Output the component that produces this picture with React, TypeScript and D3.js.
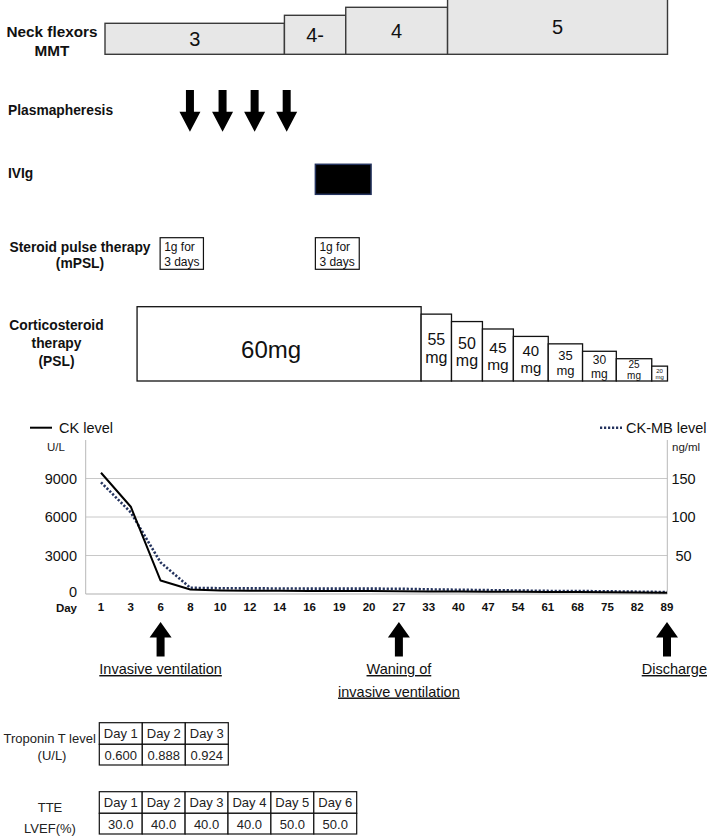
import React from 'react';
import * as d3 from 'd3';

// ---------- Data ----------
// Upper timeline (schematic units 0..100)
const mmtLabels = ['3', '4-', '4', '5'];
const mmtLevels = [1, 2, 3, 4];
const mmtStart = [0, 31.9, 42.8, 60.9];
const mmtEnd = [31.9, 42.8, 60.9, 100];

const plasmaTimes = [15.1, 20.9, 26.6, 32.3];
const ivigSpan = [37.4, 47.3];
const pulseStart = [9.8, 37.4];
const pulseEnd = [17.5, 45.2];

const pslDose = [60, 55, 50, 45, 40, 35, 30, 25, 20];
const pslStart = [5.7, 56.2, 61.6, 67.1, 72.6, 78.8, 84.9, 90.9, 97.2];
const pslEnd = [56.2, 61.6, 67.1, 72.6, 78.8, 84.9, 90.9, 97.2, 100];

// Chart
const days = ['1', '3', '6', '8', '10', '12', '14', '16', '19', '20', '27', '33', '40', '47', '54', '61', '68', '75', '82', '89'];
const ckLevel = [9450, 6800, 1050, 350, 280, 260, 250, 240, 230, 230, 220, 200, 190, 180, 170, 160, 150, 130, 110, 90];
const ckmbLevel = [145, 106, 41, 8, 7.5, 7.3, 7.2, 7, 7, 7, 6.8, 6, 5.5, 5, 4.5, 4, 3.8, 3.5, 3, 2.5];
const leftTicks = [0, 3000, 6000, 9000];
const rightTicks = [50, 100, 150];

const eventDays = ['6', '27', '89'];
const eventLabels = [['Invasive ventilation'], ['Waning of', 'invasive ventilation'], ['Discharge']];

// Tables
const tropDays = ['Day 1', 'Day 2', 'Day 3'];
const tropValues = ['0.600', '0.888', '0.924'];
const tteDays = ['Day 1', 'Day 2', 'Day 3', 'Day 4', 'Day 5', 'Day 6'];
const tteValues = ['30.0', '40.0', '40.0', '40.0', '50.0', '50.0'];

const FONT = "'Liberation Sans', Arial, Helvetica, sans-serif";

function arrowPath(cx: number, tailY: number, headBaseY: number, tipY: number, shaftW: number, headW: number) {
  return `M${cx - shaftW / 2},${tailY} L${cx + shaftW / 2},${tailY} L${cx + shaftW / 2},${headBaseY} L${cx + headW / 2},${headBaseY} L${cx},${tipY} L${cx - headW / 2},${headBaseY} L${cx - shaftW / 2},${headBaseY} Z`;
}

export default function App() {
  const W = 708, H = 839;
  const tx = d3.scaleLinear().domain([0, 100]).range([105, 667.5]);

  // MMT
  const mmtBottom = 54.3;
  const mmtH = d3.scaleLinear().domain([0, 4]).range([23, 55]);

  // PSL
  const pslBottom = 381;
  const pslH = d3.scaleLinear().domain([10, 60]).range([0, 74.3]);
  const pslFont = d3.scaleLinear().domain([20, 25, 30, 35, 40, 50, 55]).range([6, 10, 12, 13, 15, 16, 16]).clamp(true);

  // Chart
  const plotL = 85.7, plotR = 667.3, plotT = 440, plotB = 594;
  const x = d3.scalePoint<string>().domain(days).range([101, 667]);
  const yL = d3.scaleLinear().domain([0, 12000]).range([plotB, plotT]);
  const yR = d3.scaleLinear().domain([0, 200]).range([plotB, plotT]);
  const ckLine = d3.line<number>().x((_, i) => x(days[i])!).y(d => yL(d));
  const ckmbLine = d3.line<number>().x((_, i) => x(days[i])!).y(d => yR(d));

  const tropX = d3.scaleBand<string>().domain(tropDays).range([99.3, 228.3]);
  const tteX = d3.scaleBand<string>().domain(tteDays).range([99.3, 356.7]);

  const boldLabel = { fontFamily: FONT, fontWeight: 700, fontSize: 13.8, fill: '#111' } as const;

  return (
    <svg width={W} height={H} style={{ position: 'absolute', left: 0, top: 0, background: '#fff' }} fontFamily={FONT}>
      <rect x={0} y={0} width={W} height={H} fill="#fff" />

      {/* Neck flexors MMT */}
      <text x={52} y={37} textAnchor="middle" {...boldLabel} fontSize={15.3}>Neck flexors</text>
      <text x={52} y={56} textAnchor="middle" {...boldLabel} fontSize={15.3}>MMT</text>
      {mmtLabels.map((lab, i) => {
        const h = mmtH(mmtLevels[i]);
        const x0 = tx(mmtStart[i]), x1 = tx(mmtEnd[i]);
        return (
          <g key={'mmt' + i}>
            <rect x={x0} y={mmtBottom - h} width={x1 - x0} height={h} fill="#e7e7e7" stroke="#3a3a3a" strokeWidth={1.4} />
            <text x={(x0 + x1) / 2} y={mmtBottom - h / 2 + 7} textAnchor="middle" fontSize={20} fill="#111">{lab}</text>
          </g>
        );
      })}

      {/* Plasmapheresis */}
      <text x={8} y={115} {...boldLabel}>Plasmapheresis</text>
      {plasmaTimes.map((t, i) => (
        <path key={'pl' + i} d={arrowPath(tx(t), 90, 111.7, 131.7, 8, 21)} fill="#000" />
      ))}

      {/* IVIg */}
      <text x={8} y={178} {...boldLabel}>IVIg</text>
      <rect x={tx(ivigSpan[0])} y={164.3} width={tx(ivigSpan[1]) - tx(ivigSpan[0])} height={30} fill="#000" stroke="#24335e" strokeWidth={1.5} />

      {/* Steroid pulse */}
      <text x={80} y={251.5} textAnchor="middle" {...boldLabel}>Steroid pulse therapy</text>
      <text x={80} y={268} textAnchor="middle" {...boldLabel}>(mPSL)</text>
      {pulseStart.map((s, i) => {
        const x0 = tx(s), x1 = tx(pulseEnd[i]);
        return (
          <g key={'pu' + i}>
            <rect x={x0} y={237.7} width={x1 - x0} height={31.6} fill="#fff" stroke="#111" strokeWidth={1.2} />
            <text x={x0 + 4} y={251} fontSize={12} fill="#111">1g for</text>
            <text x={x0 + 4} y={266} fontSize={12} fill="#111">3 days</text>
          </g>
        );
      })}

      {/* Corticosteroid therapy */}
      <text x={56.5} y={330} textAnchor="middle" {...boldLabel}>Corticosteroid</text>
      <text x={56.5} y={348} textAnchor="middle" {...boldLabel}>therapy</text>
      <text x={56.5} y={366} textAnchor="middle" {...boldLabel}>(PSL)</text>
      {pslDose.map((d, i) => {
        const x0 = tx(pslStart[i]), x1 = tx(pslEnd[i]);
        const h = pslH(d);
        const cx = (x0 + x1) / 2;
        const cy = pslBottom - h / 2;
        if (i === 0) {
          return (
            <g key={'psl' + i}>
              <rect x={x0} y={pslBottom - h} width={x1 - x0} height={h} fill="#fff" stroke="#111" strokeWidth={1.3} />
              <text x={cx - 8} y={cy + 14} textAnchor="middle" fontSize={24} fill="#111">{d}mg</text>
            </g>
          );
        }
        const fs = pslFont(d);
        return (
          <g key={'psl' + i}>
            <rect x={x0} y={pslBottom - h} width={x1 - x0} height={h} fill="#fff" stroke="#111" strokeWidth={1.3} />
            <text x={cx} y={cy - fs * 0.15} textAnchor="middle" fontSize={fs} fill="#111">{d}</text>
            <text x={cx} y={cy + fs * 0.95} textAnchor="middle" fontSize={fs} fill="#111">mg</text>
          </g>
        );
      })}

      {/* Chart legend */}
      <line x1={30} x2={52} y1={427.7} y2={427.7} stroke="#000" strokeWidth={2} />
      <text x={59} y={433} fontSize={14.5} fill="#111">CK level</text>
      <line x1={600} x2={622} y1={427.7} y2={427.7} stroke="#24335e" strokeWidth={2.5} strokeDasharray="2.2 1.8" />
      <text x={626} y={433} fontSize={14.5} fill="#111">CK-MB level</text>

      {/* Units */}
      <text x={47} y={451} fontSize={11.5} fill="#222">U/L</text>
      <text x={672} y={451} fontSize={11.5} fill="#222">ng/ml</text>

      {/* gridlines */}
      {leftTicks.filter(t => t > 0).map(t => (
        <line key={'g' + t} x1={plotL} x2={plotR} y1={yL(t)} y2={yL(t)} stroke="#c8c8c8" strokeWidth={1} />
      ))}
      <line x1={plotL} x2={plotR} y1={plotB} y2={plotB} stroke="#b0b0b0" strokeWidth={1.2} />
      <line x1={plotL} x2={plotL} y1={plotT} y2={plotB} stroke="#b8b8b8" strokeWidth={1} />
      <line x1={plotR} x2={plotR} y1={plotT} y2={plotB} stroke="#b8b8b8" strokeWidth={1} />

      {/* left tick labels */}
      {leftTicks.map(t => (
        <text key={'lt' + t} x={77} y={yL(t) + (t === 0 ? 3 : 5)} textAnchor="end" fontSize={14.5} fill="#111">{t}</text>
      ))}
      {rightTicks.map(t => (
        <text key={'rt' + t} x={683.5} y={yR(t) + 5} textAnchor="middle" fontSize={14.5} fill="#111">{t}</text>
      ))}

      {/* lines */}
      <path d={ckmbLine(ckmbLevel)!} fill="none" stroke="#24335e" strokeWidth={2.6} strokeDasharray="2.2 1.8" />
      <path d={ckLine(ckLevel)!} fill="none" stroke="#000" strokeWidth={2} strokeLinejoin="round" />

      {/* x labels */}
      <text x={77} y={611.5} textAnchor="end" fontSize={11.5} fontWeight={700} fill="#111">Day</text>
      {days.map(d => (
        <text key={'xd' + d} x={x(d)} y={611} textAnchor="middle" fontSize={11.5} fontWeight={700} fill="#111">{d}</text>
      ))}

      {/* event arrows */}
      {eventDays.map((d, i) => {
        const cx = x(d)!;
        const lines = eventLabels[i];
        const last = i === eventDays.length - 1;
        return (
          <g key={'ev' + i}>
            <path d={arrowPath(cx, 656.5, 637.6, 622, 8, 22)} fill="#000" />
            {lines.map((ln, j) => (
              <text key={j} x={last ? 707 : cx} y={674 + j * 22.5} textAnchor={last ? 'end' : 'middle'} fontSize={14.5} fill="#111" textDecoration="underline">{ln}</text>
            ))}
          </g>
        );
      })}

      {/* Troponin table */}
      <text x={49.7} y={743} textAnchor="middle" fontSize={13} fill="#222">Troponin T level</text>
      <text x={52} y={760} textAnchor="middle" fontSize={13} fill="#222">(U/L)</text>
      {tropDays.map((d, i) => {
        const x0 = tropX(d)!, bw = tropX.bandwidth();
        return (
          <g key={'tr' + i}>
            <rect x={x0} y={722.7} width={bw} height={21.6} fill="#fff" stroke="#111" strokeWidth={1.2} />
            <rect x={x0} y={744.3} width={bw} height={20.7} fill="#fff" stroke="#111" strokeWidth={1.2} />
            <text x={x0 + bw / 2} y={738} textAnchor="middle" fontSize={13} fill="#222">{d}</text>
            <text x={x0 + bw / 2} y={759.5} textAnchor="middle" fontSize={13} fill="#222">{tropValues[i]}</text>
          </g>
        );
      })}

      {/* TTE table */}
      <text x={50} y={811.5} textAnchor="middle" fontSize={13} fill="#222">TTE</text>
      <text x={50} y={833} textAnchor="middle" fontSize={13} fill="#222">LVEF(%)</text>
      {tteDays.map((d, i) => {
        const x0 = tteX(d)!, bw = tteX.bandwidth();
        return (
          <g key={'tt' + i}>
            <rect x={x0} y={791.7} width={bw} height={21.6} fill="#fff" stroke="#111" strokeWidth={1.2} />
            <rect x={x0} y={813.3} width={bw} height={20.7} fill="#fff" stroke="#111" strokeWidth={1.2} />
            <text x={x0 + bw / 2} y={807} textAnchor="middle" fontSize={13} fill="#222">{d}</text>
            <text x={x0 + bw / 2} y={828.5} textAnchor="middle" fontSize={13} fill="#222">{tteValues[i]}</text>
          </g>
        );
      })}
    </svg>
  );
}
